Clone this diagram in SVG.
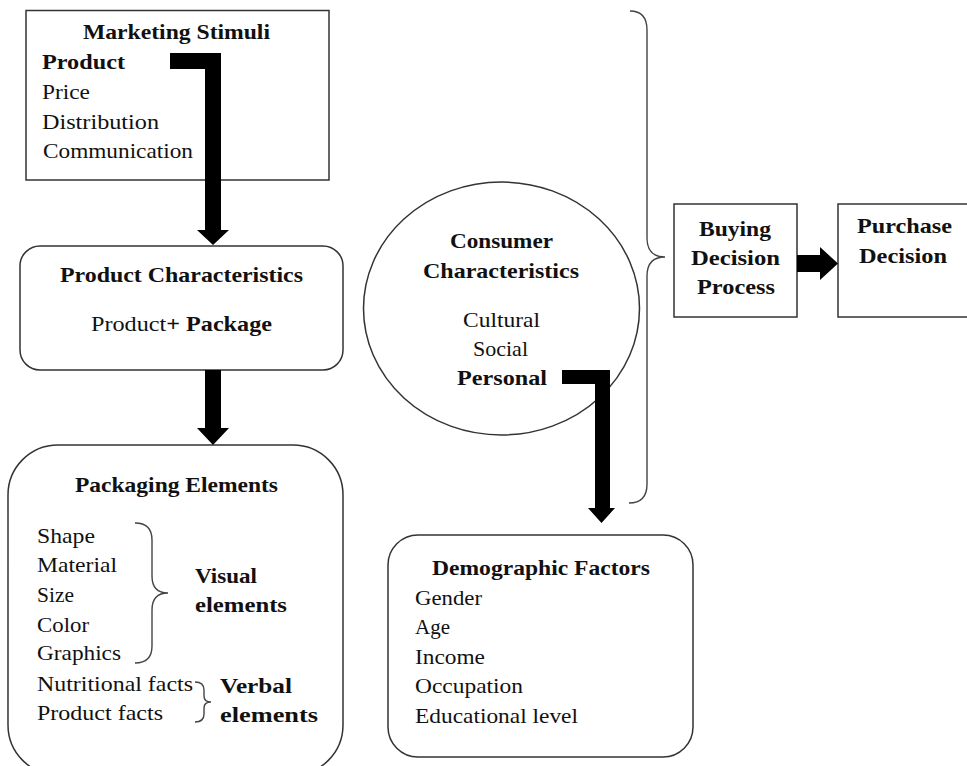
<svg xmlns="http://www.w3.org/2000/svg" width="967" height="766" viewBox="0 0 967 766">
<style>
text{font-family:"Liberation Serif","Times New Roman",serif;font-size:21px;fill:#111}
.b{font-weight:bold}
.m{text-anchor:middle}
.box{fill:#fff;stroke:#333;stroke-width:1.5}
.br{fill:none;stroke:#444;stroke-width:1.4}
.arr{fill:#000}
</style>
<rect width="967" height="766" fill="#fff"/>
<g id="marketing-stimuli">
<rect class="box" x="26" y="10.5" width="303" height="169.5"/>
<text class="b m" x="176.5" y="39" textLength="187" lengthAdjust="spacingAndGlyphs">Marketing Stimuli</text>
<text class="b" x="42" y="69" textLength="83" lengthAdjust="spacingAndGlyphs">Product</text>
<text x="42" y="99" textLength="48" lengthAdjust="spacingAndGlyphs">Price</text>
<text x="42" y="129" textLength="117" lengthAdjust="spacingAndGlyphs">Distribution</text>
<text x="43" y="158" textLength="150" lengthAdjust="spacingAndGlyphs">Communication</text>
</g>
<g id="product-characteristics">
<rect class="box" x="20" y="246" width="323" height="124" rx="20"/>
<text class="b m" x="181.5" y="282" textLength="243" lengthAdjust="spacingAndGlyphs">Product Characteristics</text>
<text class="m" x="181.5" y="331" textLength="181" lengthAdjust="spacingAndGlyphs">Product<tspan class="b">+ Package</tspan></text>
</g>
<g id="packaging-elements">
<rect class="box" x="8" y="445" width="335" height="330" rx="50"/>
<text class="b m" x="176.5" y="492" textLength="203" lengthAdjust="spacingAndGlyphs">Packaging Elements</text>
<text x="37" y="543" textLength="58" lengthAdjust="spacingAndGlyphs">Shape</text>
<text x="37" y="572" textLength="80" lengthAdjust="spacingAndGlyphs">Material</text>
<text x="37" y="602" textLength="37" lengthAdjust="spacingAndGlyphs">Size</text>
<text x="37" y="632" textLength="52" lengthAdjust="spacingAndGlyphs">Color</text>
<text x="37" y="660" textLength="84" lengthAdjust="spacingAndGlyphs">Graphics</text>
<text x="37" y="691" textLength="156" lengthAdjust="spacingAndGlyphs">Nutritional facts</text>
<text x="37" y="720" textLength="126" lengthAdjust="spacingAndGlyphs">Product facts</text>
<path class="br" d="M135,523 Q152,523 152,540 L152,576 Q152,593 168,593 Q152,593 152,610 L152,646 Q152,663 135,663"/>
<text class="b" x="195" y="583" textLength="62" lengthAdjust="spacingAndGlyphs">Visual</text>
<text class="b" x="195" y="612" textLength="92" lengthAdjust="spacingAndGlyphs">elements</text>
<path class="br" d="M195,682 Q204,682 204,690 L204,696 Q204,702 211,702 Q204,702 204,708 L204,714 Q204,722 195,722"/>
<text class="b" x="220" y="693" textLength="72" lengthAdjust="spacingAndGlyphs">Verbal</text>
<text class="b" x="220" y="722" textLength="98" lengthAdjust="spacingAndGlyphs">elements</text>
</g>
<g id="consumer-characteristics">
<ellipse class="box" cx="501.5" cy="308.5" rx="138" ry="126.5"/>
<text class="b m" x="501.5" y="248" textLength="103" lengthAdjust="spacingAndGlyphs">Consumer</text>
<text class="b m" x="501" y="278" textLength="156" lengthAdjust="spacingAndGlyphs">Characteristics</text>
<text class="m" x="501.5" y="327" textLength="77" lengthAdjust="spacingAndGlyphs">Cultural</text>
<text class="m" x="500.5" y="356" textLength="55" lengthAdjust="spacingAndGlyphs">Social</text>
<text class="b m" x="502" y="385" textLength="90" lengthAdjust="spacingAndGlyphs">Personal</text>
</g>
<g id="demographic-factors">
<rect class="box" x="388" y="535" width="305" height="222" rx="30"/>
<text class="b m" x="541" y="575" textLength="218" lengthAdjust="spacingAndGlyphs">Demographic Factors</text>
<text x="415" y="605" textLength="67" lengthAdjust="spacingAndGlyphs">Gender</text>
<text x="415" y="634" textLength="35" lengthAdjust="spacingAndGlyphs">Age</text>
<text x="415" y="664" textLength="70" lengthAdjust="spacingAndGlyphs">Income</text>
<text x="415" y="693" textLength="108" lengthAdjust="spacingAndGlyphs">Occupation</text>
<text x="415" y="723" textLength="163" lengthAdjust="spacingAndGlyphs">Educational level</text>
</g>
<g id="influence-brace">
<path class="br" d="M630,11 Q647,11 647,30 L647,238 Q647,257 665,257 Q647,257 647,276 L647,484 Q647,503 629,503"/>
</g>
<g id="buying-decision-process">
<rect class="box" x="674" y="204" width="123" height="113"/>
<text class="b m" x="735" y="236" textLength="72" lengthAdjust="spacingAndGlyphs">Buying</text>
<text class="b m" x="735.5" y="265" textLength="89" lengthAdjust="spacingAndGlyphs">Decision</text>
<text class="b m" x="736" y="294" textLength="78" lengthAdjust="spacingAndGlyphs">Process</text>
</g>
<g id="purchase-decision">
<rect class="box" x="838" y="204" width="140" height="113"/>
<text class="b m" x="904.5" y="233" textLength="95" lengthAdjust="spacingAndGlyphs">Purchase</text>
<text class="b m" x="903" y="263" textLength="88" lengthAdjust="spacingAndGlyphs">Decision</text>
</g>
<g id="connectors">
<path class="arr" d="M170,53 L221,53 L221,230 L229,230 L213,245 L197,230 L205,230 L205,69 L170,69 Z"/>
<path class="arr" d="M205,370 L221,370 L221,428 L229,428 L213,445 L197,428 L205,428 Z"/>
<path class="arr" d="M562,370 L610,370 L610,508 L615,508 L601.5,523 L588,508 L595,508 L595,384 L562,384 Z"/>
<path class="arr" d="M797,255 L820,255 L820,247 L838,263.5 L820,280 L820,272 L797,272 Z"/>
</g>
</svg>
